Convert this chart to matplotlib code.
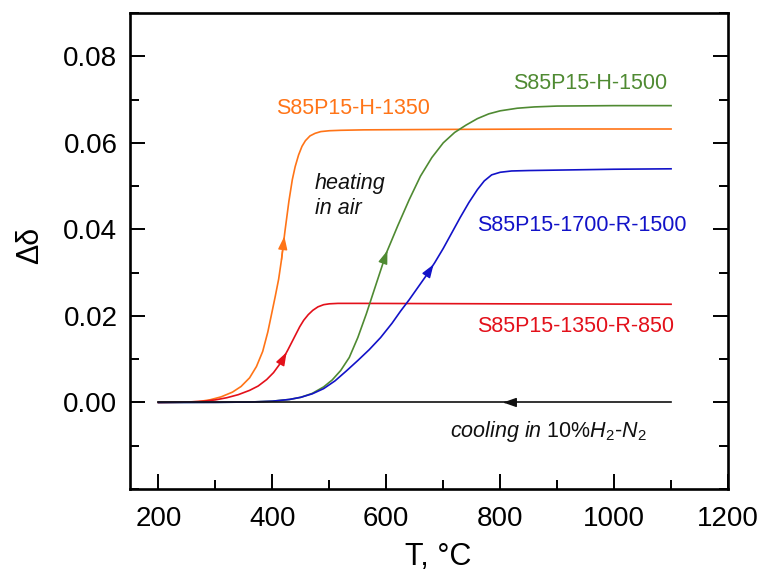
import numpy as np
import matplotlib
matplotlib.use("Agg")
import matplotlib.pyplot as plt
from matplotlib.ticker import MultipleLocator

plt.rcParams['font.family'] = ['Liberation Sans', 'DejaVu Sans']
plt.rcParams['mathtext.fontset'] = 'custom'
plt.rcParams['mathtext.rm'] = 'Liberation Sans'
plt.rcParams['mathtext.it'] = 'Liberation Sans:italic'
plt.rcParams['mathtext.sf'] = 'Liberation Sans'

# heating curves, T in deg C, delta-delta
t_h1350 = [200, 240, 270, 290, 310, 330, 345, 360, 372, 383, 392, 399, 405, 411, 416,
           422, 429, 435, 440, 446, 452, 458, 466, 475, 485, 500, 520, 560, 700, 900, 1100]
d_h1350 = [0.0, 0.00005, 0.0002, 0.0006, 0.0013, 0.0024, 0.0037, 0.0057, 0.0083, 0.0118,
           0.0163, 0.0207, 0.0245, 0.0285, 0.033, 0.0395, 0.0465, 0.0515, 0.0545, 0.0572,
           0.0592, 0.0605, 0.0616, 0.0622, 0.0626, 0.0628, 0.0629, 0.063, 0.0631, 0.0632,
           0.0632]

t_r850 = [200, 250, 280, 300, 320, 340, 360, 375, 390, 402, 412, 420, 427, 434, 441, 448,
          455, 463, 471, 480, 490, 500, 515, 550, 800, 1100]
d_r850 = [0.0, 0.0001, 0.0003, 0.0006, 0.0011, 0.0018, 0.0028, 0.0038, 0.0053, 0.0069,
          0.0087, 0.0104, 0.0121, 0.0139, 0.0157, 0.0175, 0.019, 0.0203, 0.0213, 0.0221,
          0.0226, 0.0228, 0.0229, 0.0229, 0.0228, 0.0227]

t_h1500 = [200, 300, 360, 400, 430, 450, 470, 490, 505, 520, 535, 550, 565, 580, 600, 620,
           640, 660, 680, 700, 720, 740, 760, 780, 800, 830, 860, 900, 1000, 1100]
d_h1500 = [0.0, 0.00003, 0.0001, 0.0003, 0.0007, 0.0012, 0.0021, 0.0036, 0.0052, 0.0074,
           0.0104, 0.015, 0.0205, 0.0265, 0.0345, 0.0408, 0.0468, 0.0523, 0.0566, 0.06,
           0.0624, 0.0641, 0.0656, 0.0667, 0.0674, 0.068, 0.0683, 0.0685, 0.0686, 0.0686]

t_r1500 = [200, 300, 360, 400, 430, 450, 470, 490, 510, 530, 550, 570, 590, 610, 625, 640,
           655, 670, 685, 700, 715, 730, 745, 760, 772, 785, 800, 820, 850, 900, 1000, 1100]
d_r1500 = [0.0, 0.00003, 0.0001, 0.0003, 0.0007, 0.0012, 0.002, 0.0032, 0.005, 0.0073,
           0.0097, 0.0122, 0.015, 0.0183, 0.0211, 0.0237, 0.0265, 0.0293, 0.0323, 0.0356,
           0.0392, 0.0428, 0.0462, 0.0492, 0.0512, 0.0526, 0.0532, 0.0535, 0.0536, 0.0537,
           0.0539, 0.054]

# cooling in H2-N2, drawn from 1100 down to 200
t_cool = [1100, 200]
d_cool = [0.0, 0.0]

# (T, value, colour, T where the direction arrow sits)
curves = [
    (t_h1350, d_h1350, '#ff7417', 421),
    (t_r850, d_r850, '#e3101a', 425),
    (t_h1500, d_h1500, '#4f8a32', 602),
    (t_r1500, d_r1500, '#1212c8', 683),
    (t_cool, d_cool, '#111111', 805),
]

fig = plt.figure(figsize=(7.62, 5.79), dpi=100)
ax = fig.add_axes([0.1706, 0.1554, 0.7848, 0.8221])

for t, d, c, t_arrow in curves:
    ax.plot(t, d, color=c, lw=1.2, zorder=3)
    # arrow head on the curve, pointing the way the run goes
    order = np.argsort(t)
    ts, ds = np.asarray(t)[order], np.asarray(d)[order]
    step = 5 if t[0] < t[-1] else -5
    tip = (t_arrow, np.interp(t_arrow, ts, ds))
    tail = (t_arrow - step, np.interp(t_arrow - step, ts, ds))
    ax.annotate('', xy=tip, xytext=tail,
                arrowprops=dict(arrowstyle='-|>,head_length=0.8,head_width=0.28',
                                color=c, lw=1.0, shrinkA=0, shrinkB=0,
                                mutation_scale=10), zorder=4)

fs = 15.5
ax.text(406, 0.068, 'S85P15-H-1350', color='#ff7417', fontsize=fs, ha='left', va='center')
ax.text(474, 0.0478, 'heating\nin air', color='#111111', fontsize=fs, style='italic',
        ha='left', va='center', linespacing=1.25)
ax.text(1094, 0.0738, 'S85P15-H-1500', color='#4f8a32', fontsize=fs, ha='right', va='center')
ax.text(1127, 0.041, 'S85P15-1700-R-1500', color='#1212c8', fontsize=fs, ha='right', va='center')
ax.text(1106, 0.0175, 'S85P15-1350-R-850', color='#e3101a', fontsize=fs, ha='right', va='center')
ax.text(1058, -0.0067, r'$cooling\ in$ 10%$H_2$-$N_2$', color='#111111', fontsize=fs,
        ha='right', va='center')

ax.set_xlim(150, 1200)
ax.set_ylim(-0.02, 0.09)
ax.set_xticks([200, 400, 600, 800, 1000, 1200])
ax.xaxis.set_minor_locator(MultipleLocator(100))
ax.set_yticks([0.0, 0.02, 0.04, 0.06, 0.08])
ax.set_yticklabels(['0.00', '0.02', '0.04', '0.06', '0.08'])
ax.yaxis.set_minor_locator(MultipleLocator(0.01))

ax.tick_params(which='both', direction='in', top=False, right=True, width=1.4,
               labelsize=20, color='black')
ax.tick_params(which='major', length=11)
ax.tick_params(which='minor', length=6.5)
ax.tick_params(axis='x', pad=12)
ax.tick_params(axis='y', pad=9)
for s in ax.spines.values():
    s.set_linewidth(1.9)

ax.set_xlabel('T, °C', fontsize=22)
ax.xaxis.set_label_coords(0.515, -0.112)
fig.text(30 / 762, 1 - 245 / 579, 'Δδ', fontsize=22, rotation=90, ha='center', va='center')

fig.savefig('out.png', dpi=100)
